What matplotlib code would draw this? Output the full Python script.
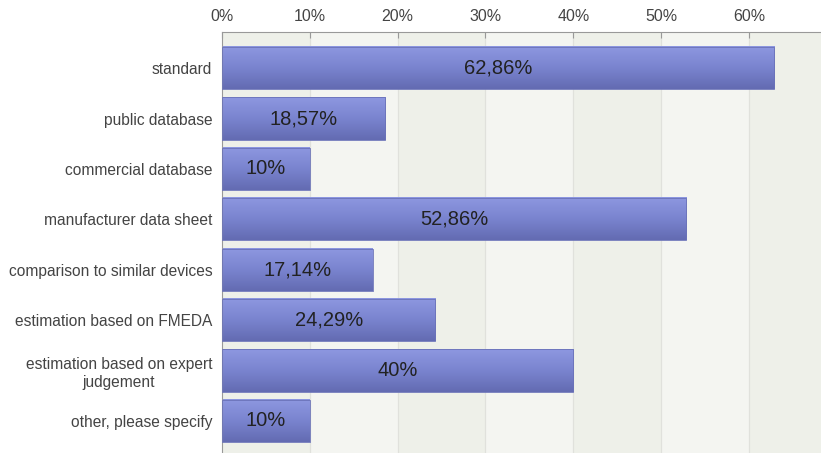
import matplotlib.pyplot as plt
import numpy as np
from matplotlib.colors import LinearSegmentedColormap

plt.rcParams['font.family'] = ['Liberation Sans', 'DejaVu Sans']

categories = ['standard', 'public database', 'commercial database',
              'manufacturer data sheet', 'comparison to similar devices',
              'estimation based on FMEDA', 'estimation based on expert\njudgement',
              'other, please specify']
values = [62.86, 18.57, 10, 52.86, 17.14, 24.29, 40, 10]
labels = ['62,86%', '18,57%', '10%', '52,86%', '17,14%', '24,29%', '40%', '10%']
ticks = [0, 10, 20, 30, 40, 50, 60]

fig = plt.figure(figsize=(8.21, 4.53), dpi=100)
ax = fig.add_axes([222/821, 0, 599/821, 421/453])

xmax = 68.2

# background: faint banding between gridlines
ax.set_facecolor('#f4f5f1')
for i in range(0, 7):
    if i % 2 == 0:
        ax.axvspan(i*10, i*10+10, color='#eef0e9', zorder=0, lw=0)
for t in ticks[1:]:
    ax.axvline(t, color='#e0e1dc', lw=0.9, zorder=1)

# bars with vertical gradient
h = 0.84
grad = np.linspace(0, 1, 100).reshape(-1, 1)
cmap = LinearSegmentedColormap.from_list('bar', ['#8d97e0', '#7a84cf', '#636bb2'])
for i, v in enumerate(values):
    ax.imshow(grad, cmap=cmap, aspect='auto', zorder=2,
              extent=(0, v, i + h/2, i - h/2), interpolation='bicubic')
    ax.add_patch(plt.Rectangle((0, i - h/2), v, h, fill=False,
                               edgecolor='#6a72b8', lw=0.6, zorder=3))
    ax.text(v/2, i, labels[i], ha='center', va='center', fontsize=14.5,
            color='#222222', zorder=4)

ax.set_xlim(0, xmax)
ax.set_ylim(len(categories) - 0.36, -0.72)

ax.xaxis.tick_top()
ax.set_xticks(ticks)
ax.set_xticklabels([f'{t}%' for t in ticks], fontsize=11.5, color='#444444')
ax.tick_params(axis='x', direction='in', length=4, color='#999999', pad=6)
ax.set_yticks(range(len(categories)))
ax.set_yticklabels(categories, fontsize=11.2, color='#444444',
                   multialignment='center', linespacing=1.25)
ax.tick_params(axis='y', length=0, pad=7)

for s in ['right', 'bottom']:
    ax.spines[s].set_visible(False)
ax.spines['top'].set_color('#999999')
ax.spines['left'].set_color('#999999')

fig.savefig('out.png', dpi=100)
